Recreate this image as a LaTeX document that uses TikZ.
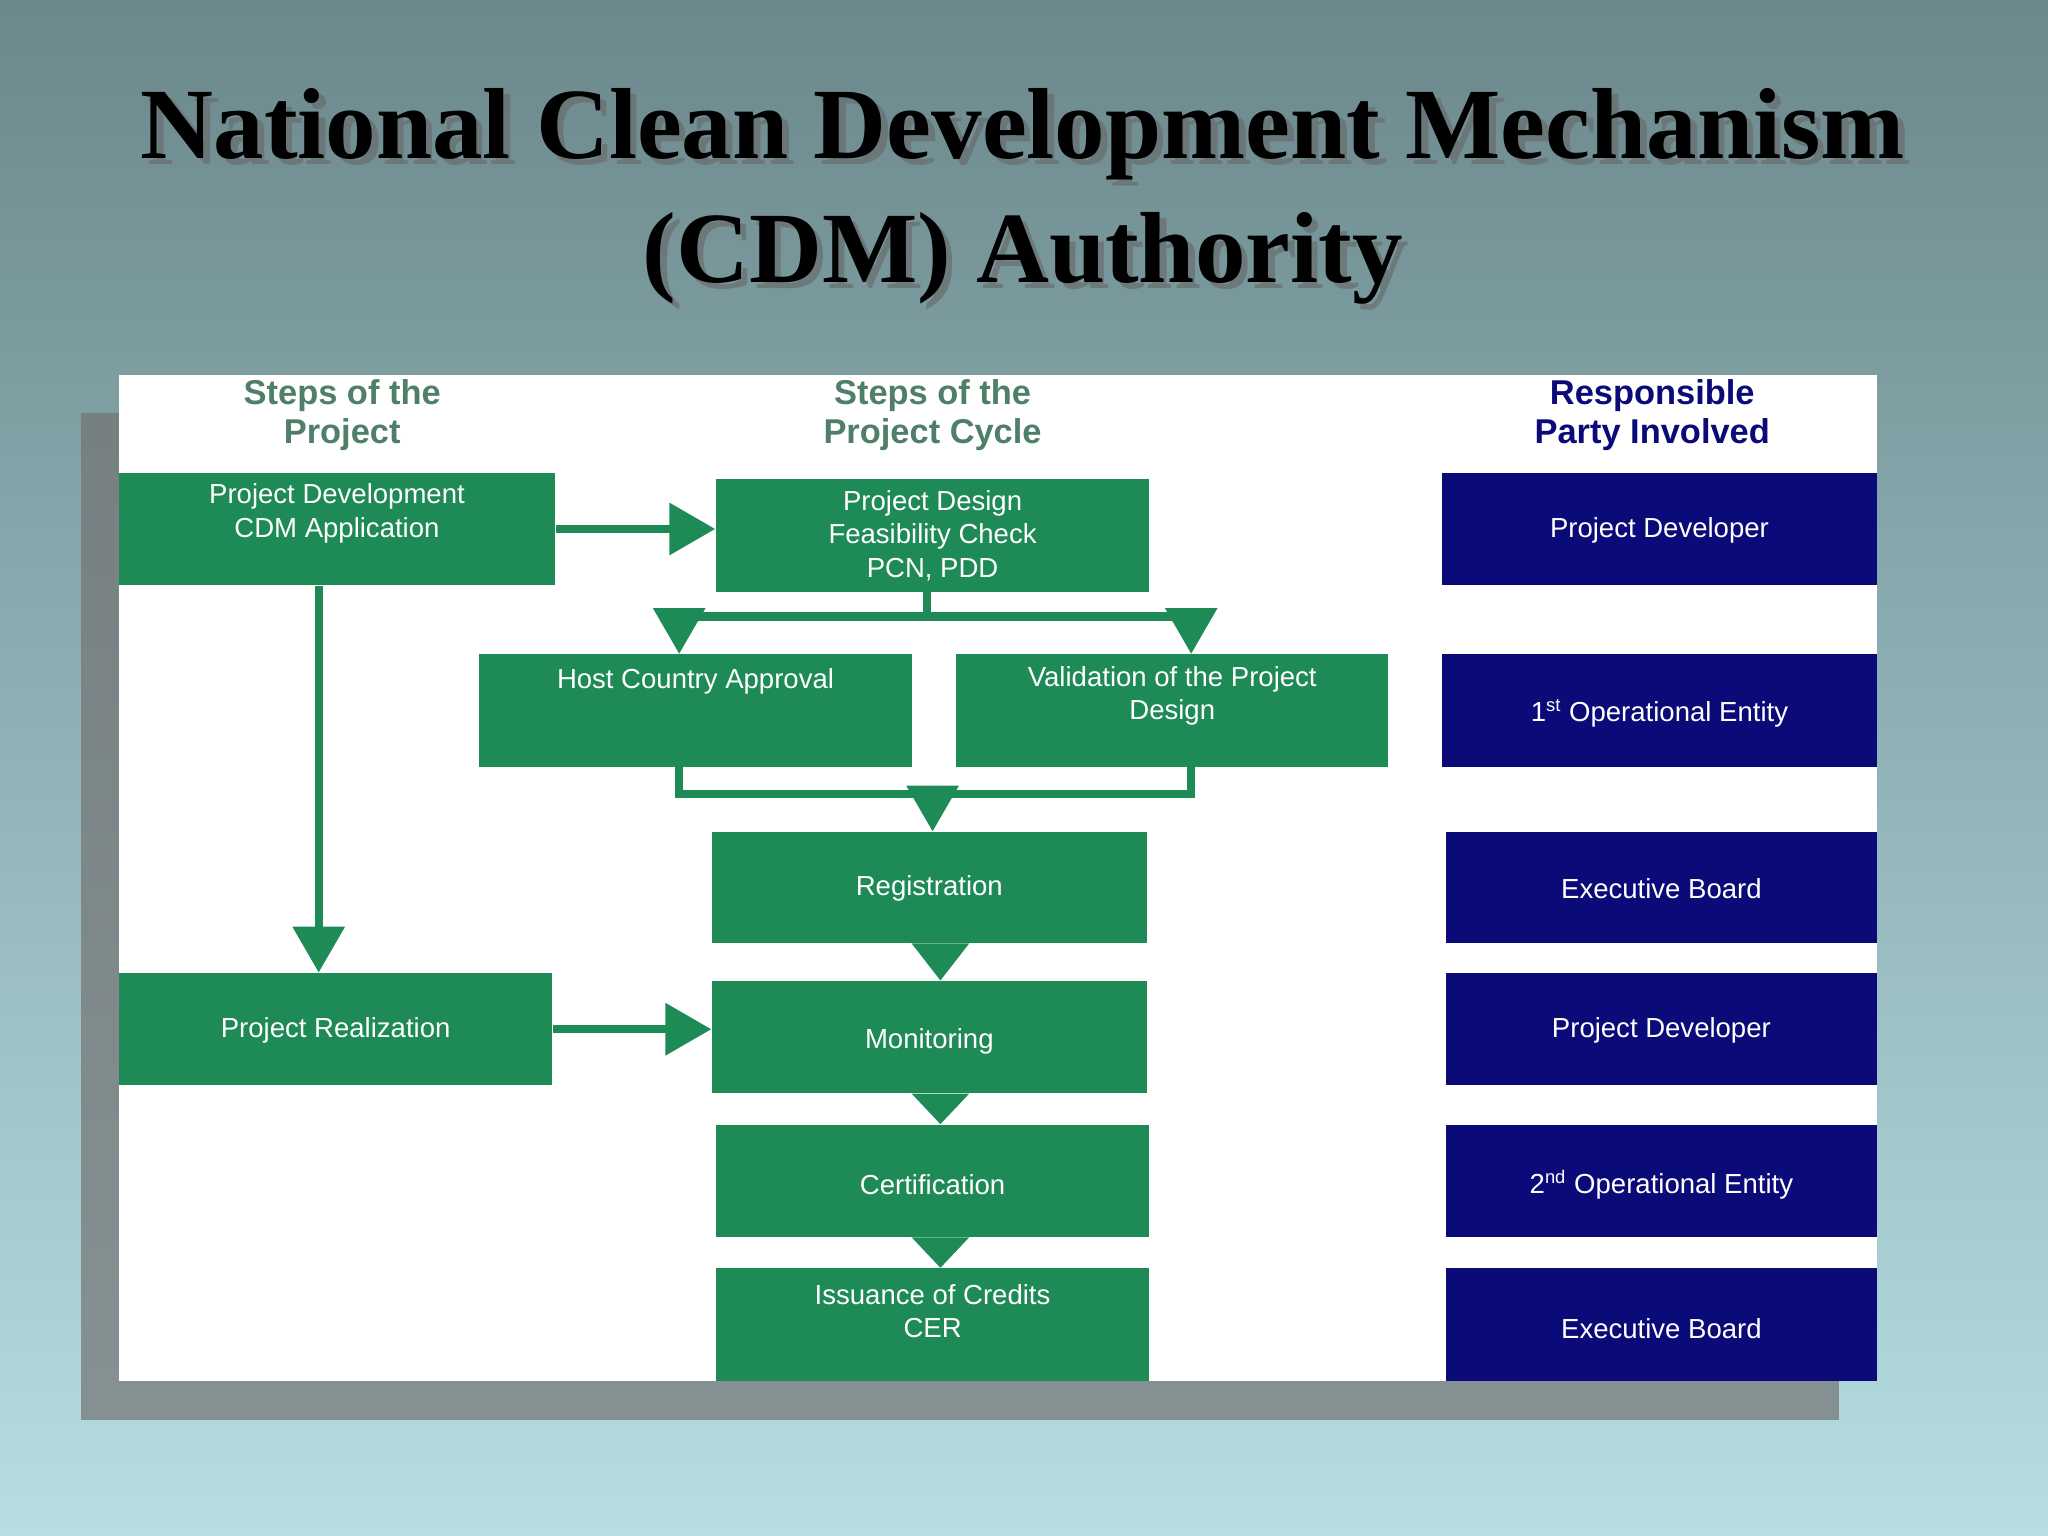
\documentclass[tikz,border=0pt]{standalone}
\usepackage{fontspec}
\setmainfont{Liberation Serif}
\newfontfamily\boxfont{Liberation Sans}
\usetikzlibrary{arrows.meta,shadows}
\definecolor{gr}{HTML}{1E8A55}
\definecolor{nv}{HTML}{0A0A78}
\definecolor{bgtop}{HTML}{6B888C}
\definecolor{bgbot}{HTML}{B6DEE3}
\definecolor{hdr}{HTML}{4F7F68}
\begin{document}
\begin{tikzpicture}[x=0.02cm,y=-0.02cm,
 g/.style={fill=gr,inner sep=0},
 n/.style={fill=nv,inner sep=0},
 hd/.style={font=\boxfont\bfseries\fontsize{15}{17}\selectfont,align=center},
 ln/.style={draw=gr,line width=3.5pt},
 ar/.style={ln,-{Triangle[length=20pt,width=22pt]}},
 t/.style={text=white,font=\boxfont\fontsize{12}{14.5}\selectfont,align=center}]
\shade[top color=bgtop,bottom color=bgbot] (0,0) rectangle (1568,1176);
\useasboundingbox (0,0) rectangle (1568,1176);
\fill[black!55,opacity=0.7] (62,316) rectangle (1408,1087);
\fill[white] (91,287) rectangle (1437,1057);
\node[font=\bfseries\fontsize{44}{54}\selectfont,align=center,text=black!60,opacity=0.6] at (788,155) {National Clean Development Mechanism\\(CDM) Authority};
\node[font=\bfseries\fontsize{44}{54}\selectfont,align=center] (title) at (783,150) {National Clean Development Mechanism\\(CDM) Authority};
\node[hd,text=hdr] (h1) at (262,318) {Steps of the\\Project};
\node[hd,text=hdr] (h2) at (714,318) {Steps of the\\Project Cycle};
\node[hd,text=nv] (h3) at (1265,318) {Responsible\\Party Involved};
\newcommand\bx[8]{\node[#1,minimum width={(#4-#2)*0.02cm},minimum height={(#5-#3)*0.02cm}] (#6) at ({(#2+#4)/2},{(#3+#5)/2}) {};
 \node[t] (#6t) at ({(#2+#4)/2},#7) {#8};}
\bx{g}{91}{362}{425}{448}{pd}{393}{Project Development\\CDM Application}
\bx{g}{548}{367}{880}{453}{pdes}{410}{Project Design\\Feasibility Check\\PCN, PDD}
\bx{g}{367}{501}{698}{587}{hca}{522}{Host Country Approval}
\bx{g}{732}{501}{1063}{587}{val}{533}{Validation of the Project\\Design}
\bx{g}{545}{637}{878}{722}{reg}{680}{Registration}
\bx{g}{545}{751}{878}{837}{mon}{797}{Monitoring}
\bx{g}{548}{861}{880}{947}{cert}{907}{Certification}
\bx{g}{548}{971}{880}{1057}{iss}{1004}{Issuance of Credits\\CER}
\bx{g}{91}{745}{423}{831}{pr}{789}{Project Realization}
\bx{n}{1104}{362}{1437}{448}{r1}{406}{Project Developer}
\bx{n}{1104}{501}{1437}{587}{r2}{546}{1\textsuperscript{st} Operational Entity}
\bx{n}{1107}{637}{1437}{722}{r3}{680}{Executive Board}
\bx{n}{1107}{745}{1437}{831}{r4}{789}{Project Developer}
\bx{n}{1107}{861}{1437}{947}{r5}{907}{2\textsuperscript{nd} Operational Entity}
\bx{n}{1107}{971}{1437}{1057}{r6}{1017}{Executive Board}
% connectors
\draw[ar] (pd.east) -- (pd.east -| pdes.west);
\draw[ar] (pr.east) -- (pr.east -| mon.west);
\draw[ar] (pd.south -| 244,0) -- (pr.north -| 244,0);
\draw[ln] (pdes.south -| 710,0) -- (710,472);
\draw[ln] (520,472) -- (912,472);
\draw[ar] (520,470) -- (hca.north -| 520,0);
\draw[ar] (912,470) -- (val.north -| 912,0);
\draw[ln] (hca.south -| 520,0) -- (520,608) -- (912,608) -- (val.south -| 912,0);
\draw[ar] (714,606) -- (reg.north -| 714,0);
\fill[gr] (reg.south -| 698,0) -- (reg.south -| 742,0) -- (mon.north -| 720,0) -- cycle;
\fill[gr] (mon.south -| 698,0) -- (mon.south -| 742,0) -- (cert.north -| 720,0) -- cycle;
\fill[gr] (cert.south -| 698,0) -- (cert.south -| 742,0) -- (iss.north -| 720,0) -- cycle;
\end{tikzpicture}
\end{document}
